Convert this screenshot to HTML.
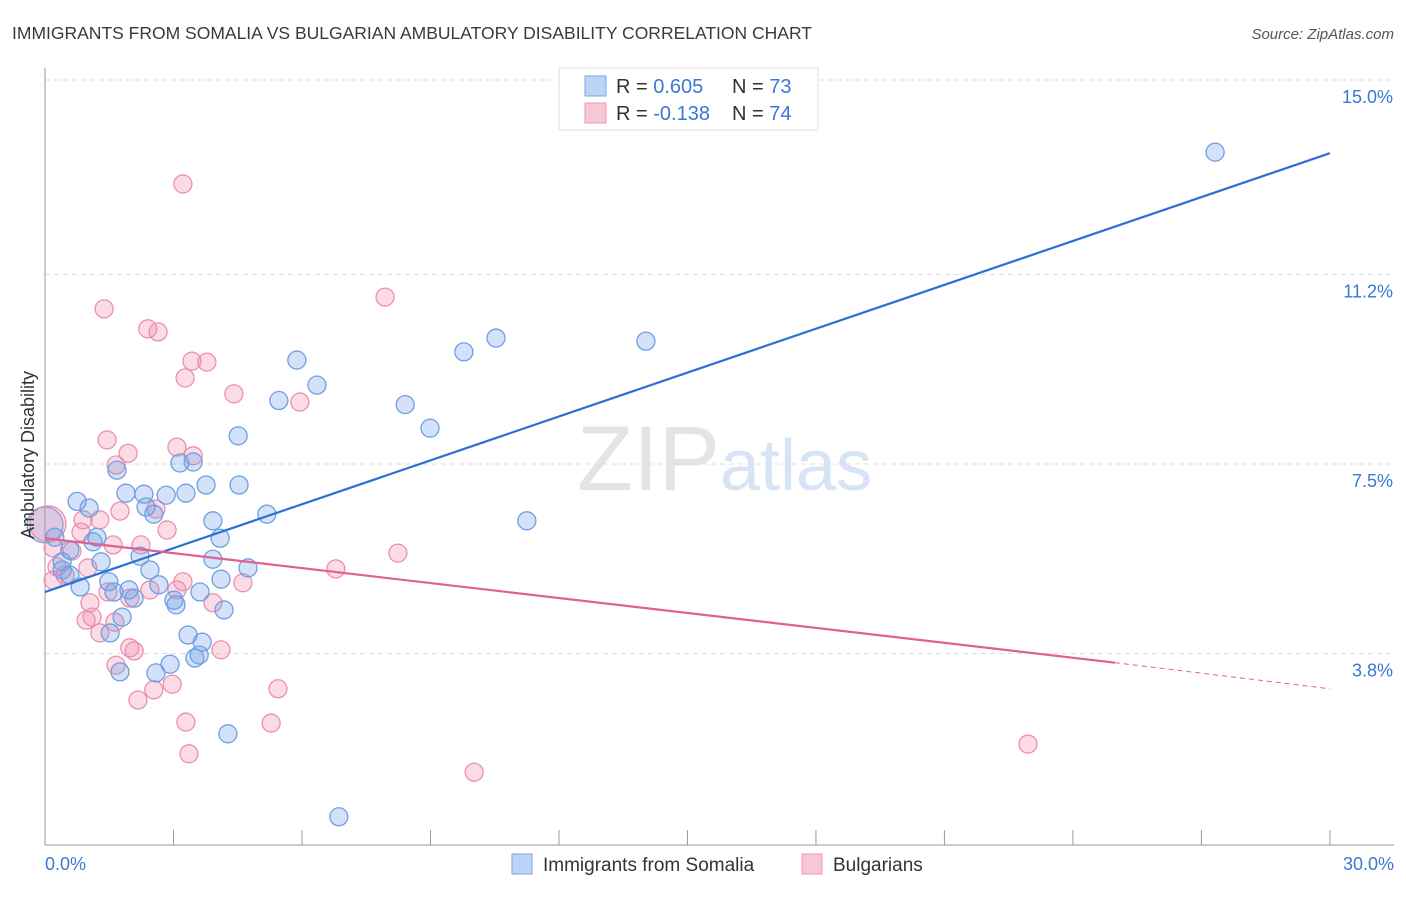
<!DOCTYPE html>
<html><head><meta charset="utf-8"><style>
body{margin:0;background:#fff;font-family:"Liberation Sans",sans-serif;}
svg text{font-family:"Liberation Sans",sans-serif;}
</style></head><body>
<svg id="chart" width="1406" height="892">
<text x="12" y="39" font-size="17.5" fill="#3a3a3a">IMMIGRANTS FROM SOMALIA VS BULGARIAN AMBULATORY DISABILITY CORRELATION CHART</text>
<text x="1394" y="39" font-size="15" fill="#555" text-anchor="end" font-style="italic">Source: ZipAtlas.com</text>
<text x="720" y="490" font-size="92" fill="#e4e4e4" text-anchor="end" font-family="Liberation Serif">ZIP</text>
<text x="720" y="490" font-size="72" fill="#d6e4f5">atlas</text>
<g id="grid"></g><g id="axes"></g><g id="pts"></g><g id="lines"></g>
<text transform="translate(34,455) rotate(-90)" font-size="18" fill="#333" text-anchor="middle">Ambulatory Disability</text>
<text x="45" y="870" font-size="18" fill="#3a78d4">0.0%</text>
<text x="1394" y="870" font-size="18" fill="#3a78d4" text-anchor="end">30.0%</text>
<g>
<rect x="559" y="68" width="259" height="62" fill="#fff" stroke="#ddd"/>
<rect x="585" y="76" width="21" height="20" fill="#bcd4f6" stroke="#7aa6e6"/>
<rect x="585" y="103" width="21" height="20" fill="#f9c8d6" stroke="#ee9ab5"/>
<text x="616" y="93" font-size="20" fill="#333">R = <tspan fill="#3a78d4">0.605</tspan></text>
<text x="732" y="93" font-size="20" fill="#333">N = <tspan fill="#3a78d4">73</tspan></text>
<text x="616" y="120" font-size="20" fill="#333">R = <tspan fill="#3a78d4">-0.138</tspan></text>
<text x="732" y="120" font-size="20" fill="#333">N = <tspan fill="#3a78d4">74</tspan></text>
</g>
<g>
<rect x="512" y="854" width="20" height="20" fill="#bcd4f6" stroke="#7aa6e6"/>
<text x="543" y="871" font-size="19" fill="#333">Immigrants from Somalia</text>
<rect x="802" y="854" width="20" height="20" fill="#f9c8d6" stroke="#ee9ab5"/>
<text x="833" y="871" font-size="19" fill="#333">Bulgarians</text>
</g>
</svg>
<script>
const yTicks=[15.0,11.2,7.5,3.8];
const yTickLabels=["15.0%","11.2%","7.5%","3.8%"];
const xTicks=[0,3,6,9,12,15,18,21,24,27,30];
const blueX=[27.32,10.53,14.03,9.78,5.88,6.35,5.46,8.41,8.99,4.51,3.15,3.46,1.68,3.76,4.53,1.89,2.31,3.29,2.83,0.75,1.03,2.36,2.54,5.18,11.25,3.92,0.23,1.21,1.12,4.09,2.22,3.92,0.40,1.31,4.74,2.45,0.58,4.11,1.49,2.66,0.82,1.96,1.61,3.62,2.08,3.01,3.06,4.18,1.80,1.52,3.34,3.67,3.60,3.50,2.92,2.59,1.75,4.27,6.86,0.58,0.40];
const blueY=[13.59,9.96,9.90,9.69,9.53,9.04,8.74,8.66,8.20,8.05,7.52,7.54,7.38,7.09,7.09,6.93,6.91,6.93,6.89,6.77,6.64,6.66,6.52,6.52,6.39,6.39,6.07,6.07,5.98,6.05,5.70,5.64,5.59,5.59,5.47,5.43,5.33,5.25,5.20,5.14,5.10,5.04,5.00,5.00,4.88,4.84,4.75,4.65,4.51,4.20,4.16,4.02,3.77,3.71,3.59,3.42,3.44,2.23,0.61,5.82,5.43];
const pinkX=[3.22,7.94,1.38,2.40,2.64,3.43,3.78,3.27,4.41,5.95,1.45,3.08,1.94,3.46,1.66,1.75,2.59,0.89,0.84,2.85,1.28,2.24,1.59,0.19,8.24,0.63,6.79,0.28,1.00,3.22,4.62,3.08,1.47,2.45,1.98,1.05,3.92,1.10,1.63,0.96,1.28,1.98,2.08,4.11,1.66,2.97,2.54,5.44,2.17,3.29,5.28,3.36,22.95,10.02,0.19,0.47];
const pinkY=[12.97,10.76,10.53,10.14,10.08,9.51,9.49,9.18,8.87,8.71,7.97,7.83,7.71,7.66,7.48,6.58,6.62,6.41,6.17,6.21,6.41,5.92,5.92,5.86,5.76,5.80,5.45,5.49,5.47,5.20,5.18,5.04,5.00,5.04,4.88,4.79,4.79,4.51,4.41,4.45,4.20,3.91,3.85,3.87,3.57,3.20,3.09,3.11,2.89,2.46,2.44,1.84,2.03,1.48,5.23,5.33];
const bigBlue=[0.0,6.31], bigPink=[0.07,6.33];
const blueLine=[0,5.0,30,13.57];
const pinkLine=[0,6.05,24.98,3.62,30,3.11];
const X=v=>45+v*42.83, Y=v=>80+(15-v)*51.2;
const NS="http://www.w3.org/2000/svg";
function mk(p,t,a){const e=document.createElementNS(NS,t);for(const k in a)e.setAttribute(k,a[k]);p.appendChild(e);return e;}
const grid=document.getElementById('grid'),axes=document.getElementById('axes'),pts=document.getElementById('pts'),lines=document.getElementById('lines');
yTicks.forEach((t,i)=>{
 const l=mk(grid,'line',{x1:45,x2:1394,y1:Y(t),y2:Y(t),stroke:'#ddd','stroke-dasharray':'5,4'});
 
 
 const tx=mk(grid,'text',{x:1393,y:Y(t)+23,'font-size':18,fill:'#3a78d4','text-anchor':'end'});
 tx.textContent=yTickLabels[i];
 
 
});
const ax=mk(axes,'line',{x1:45,x2:45,y1:68,y2:845,stroke:'#999'});


const bx=mk(axes,'line',{x1:45,x2:1394,y1:845,y2:845,stroke:'#999'});


xTicks.forEach(t=>{
 const l=mk(axes,'line',{x1:X(t),x2:X(t),y1:830,y2:845,stroke:'#999'});
 
 
});
function dot(x,y,r,fill,stroke,name){
 const c=mk(pts,'circle',{cx:X(x),cy:Y(y),r:r,fill:fill,stroke:stroke,'stroke-width':1.3});
 
 
}
const bf='rgba(110,160,232,0.3)',bs='#6f9fe2',pf='rgba(242,140,172,0.3)',ps='#ec8fae';
dot(bigBlue[0],bigBlue[1],18,bf,bs,'somalia-point');
dot(bigPink[0],bigPink[1],18,pf,ps,'bulgarian-point');
pinkX.forEach((x,i)=>dot(x,pinkY[i],9,pf,ps,'bulgarian-point'));
blueX.forEach((x,i)=>dot(x,blueY[i],9,bf,bs,'somalia-point'));
const bl=mk(lines,'line',{x1:X(blueLine[0]),y1:Y(blueLine[1]),x2:X(blueLine[2]),y2:Y(blueLine[3]),stroke:'#2a6fd6','stroke-width':2.2});


const pl=mk(lines,'line',{x1:X(pinkLine[0]),y1:Y(pinkLine[1]),x2:X(pinkLine[2]),y2:Y(pinkLine[3]),stroke:'#e0608f','stroke-width':2.2});


const pd=mk(lines,'line',{x1:X(pinkLine[2]),y1:Y(pinkLine[3]),x2:X(pinkLine[4]),y2:Y(pinkLine[5]),stroke:'#e0608f','stroke-width':1,'stroke-dasharray':'5,4'});


</script>
</body></html>
